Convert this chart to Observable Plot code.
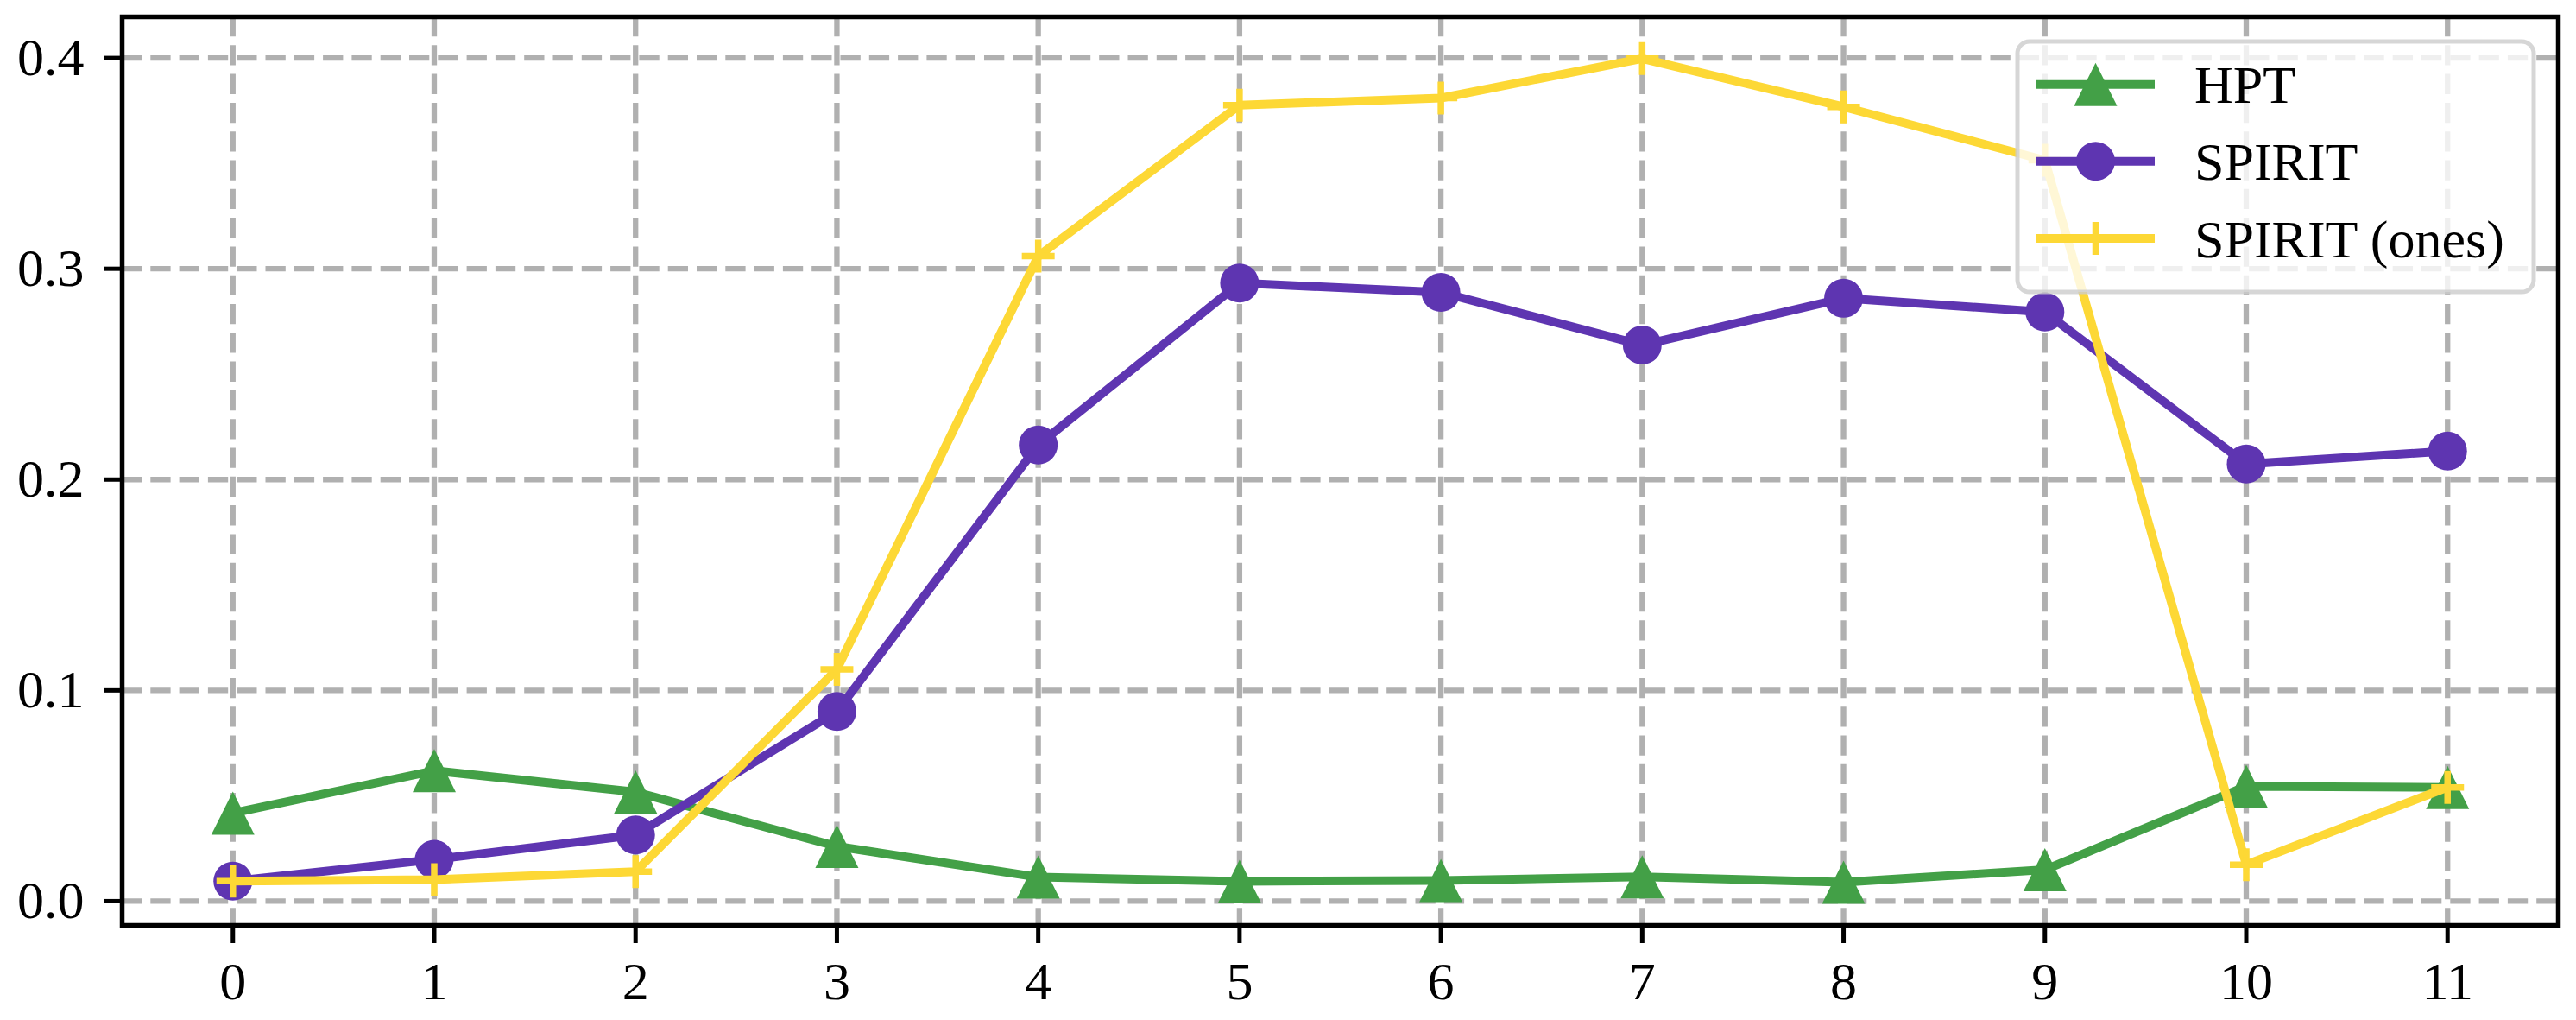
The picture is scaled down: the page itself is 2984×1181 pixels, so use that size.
<!DOCTYPE html>
<html>
<head>
<meta charset="utf-8">
<script src="https://cdn.jsdelivr.net/npm/d3@7"></script>
<script src="https://cdn.jsdelivr.net/npm/@observablehq/plot@0.6"></script>
<style>
  html, body { margin: 0; padding: 0; background: #fff; }
  #chart { width: 2984px; height: 1181px; }
</style>
</head>
<body>
<div id="chart"></div>
<script>
// ---- data ----
const steps = [0, 1, 2, 3, 4, 5, 6, 7, 8, 9, 10, 11];
const hpt = [0.0418, 0.0619, 0.0518, 0.026, 0.0114, 0.0094, 0.0098, 0.0115, 0.009, 0.0149, 0.0545, 0.054];
const spirit = [0.0095, 0.0198, 0.0314, 0.0900, 0.2164, 0.2932, 0.2888, 0.2638, 0.2860, 0.2795, 0.2074, 0.2135];
const spiritOnes = [0.0095, 0.0102, 0.0140, 0.1100, 0.3060, 0.3776, 0.3810, 0.3997, 0.3768, 0.3515, 0.0173, 0.0540];
const seriesNames = ["HPT", "SPIRIT", "SPIRIT (ones)"];
const yTicks = [0.0, 0.1, 0.2, 0.3, 0.4];

// ---- styles ----
const colors = {"HPT": "#43a047", "SPIRIT": "#5e35b1", "SPIRIT (ones)": "#fdd835"};
const W = 2984, H = 1181;
const FONT = "'Liberation Serif', 'Times New Roman', serif";

const toRows = (name, vals) => steps.map((s, i) => ({step: s, value: vals[i], series: name}));
const rowsHPT = toRows("HPT", hpt);
const rowsSP = toRows("SPIRIT", spirit);
const rowsOnes = toRows("SPIRIT (ones)", spiritOnes);

// custom symbols (matplotlib-like)
const triSymbol = {draw(ctx, size) {
  const h = Math.sqrt(size) / 2;
  ctx.moveTo(0, -h); ctx.lineTo(h, h); ctx.lineTo(-h, h); ctx.closePath();
}};
const plusSymbol = {draw(ctx, size) {
  const h = Math.sqrt(size) / 2;
  ctx.moveTo(-h, 0); ctx.lineTo(h, 0); ctx.moveTo(0, -h); ctx.lineTo(0, h);
}};
const rFor = (side) => side / Math.sqrt(Math.PI);

const LW = 10;
const MEW = 7.5;
const plot = Plot.plot({
  width: W,
  height: H,
  marginLeft: 141,
  marginRight: 21,
  marginTop: 19,
  marginBottom: 110,
  style: {fontFamily: FONT, fontSize: "62px", color: "black", background: "white"},
  x: {domain: [-0.55, 11.55]},
  y: {domain: [-0.0115, 0.4195]},
  marks: [
    Plot.gridX(steps, {stroke: "#b0b0b0", strokeOpacity: 1, strokeWidth: 6.3, strokeDasharray: "23.3,10"}),
    Plot.gridY(yTicks, {stroke: "#b0b0b0", strokeOpacity: 1, strokeWidth: 6.3, strokeDasharray: "23.3,10"}),
    // HPT
    Plot.line(rowsHPT, {x: "step", y: "value", stroke: colors["HPT"], strokeWidth: LW}),
    Plot.dot(rowsHPT, {x: "step", y: "value", symbol: triSymbol, r: rFor(50), fill: colors["HPT"], stroke: "none"}),
    // SPIRIT
    Plot.line(rowsSP, {x: "step", y: "value", stroke: colors["SPIRIT"], strokeWidth: LW}),
    Plot.dot(rowsSP, {x: "step", y: "value", r: 22.5, fill: colors["SPIRIT"], stroke: "none"}),
    // SPIRIT (ones)
    Plot.line(rowsOnes, {x: "step", y: "value", stroke: colors["SPIRIT (ones)"], strokeWidth: LW}),
    Plot.dot(rowsOnes, {x: "step", y: "value", symbol: plusSymbol, r: rFor(38), fill: "none", stroke: colors["SPIRIT (ones)"], strokeWidth: MEW, strokeLinecap: "butt"}),
    Plot.axisX({ticks: steps, tickSize: 21, tickPadding: 20, tickFormat: d => String(d), strokeWidth: 5, label: null}),
    Plot.axisY({ticks: yTicks, tickSize: 21, tickPadding: 23, tickFormat: d3.format(".1f"), strokeWidth: 5, label: null}),
    Plot.frame({stroke: "black", strokeWidth: 5.5})
  ]
});
document.getElementById("chart").appendChild(plot);

// ---- legend (matplotlib-like, upper right) ----
const svg = d3.select(plot);
const lg = svg.append("g").attr("class", "legend");
const box = {x: 2337, y: 48, w: 598, h: 290};
lg.append("rect")
  .attr("x", box.x).attr("y", box.y).attr("width", box.w).attr("height", box.h)
  .attr("rx", 14).attr("ry", 14)
  .attr("fill", "white").attr("fill-opacity", 0.8)
  .attr("stroke", "#cccccc").attr("stroke-opacity", 0.8).attr("stroke-width", 5);
const rowY = [97.7, 186.7, 276];
const lx0 = 2359, lx1 = 2496, mx = 2427.5, tx = 2542;
seriesNames.forEach((name, i) => {
  const y = rowY[i];
  const c = colors[name];
  lg.append("line").attr("x1", lx0).attr("x2", lx1).attr("y1", y).attr("y2", y)
    .attr("stroke", c).attr("stroke-width", LW);
  if (name === "HPT") {
    const h = 25;
    lg.append("path").attr("d", `M${mx},${y - h}L${mx + h},${y + h}L${mx - h},${y + h}Z`).attr("fill", c);
  } else if (name === "SPIRIT") {
    lg.append("circle").attr("cx", mx).attr("cy", y).attr("r", 22.5).attr("fill", c);
  } else {
    const h = 19;
    lg.append("path").attr("d", `M${mx - h},${y}L${mx + h},${y}M${mx},${y - h}L${mx},${y + h}`)
      .attr("stroke", c).attr("stroke-width", MEW).attr("fill", "none");
  }
  lg.append("text").attr("x", tx).attr("y", y).attr("dy", "0.35em")
    .attr("text-anchor", "start")
    .style("text-anchor", "start")
    .attr("font-family", FONT).attr("font-size", 62).attr("fill", "black")
    .text(name);
});
</script>
</body>
</html>
